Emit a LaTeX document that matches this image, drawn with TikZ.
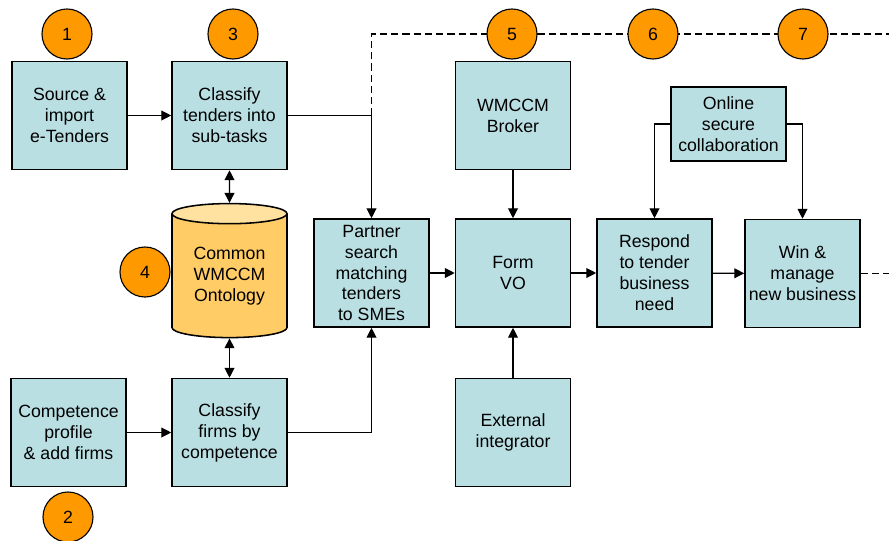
\documentclass[tikz,border=0pt]{standalone}
\usepackage{fontspec}
\setmainfont{Liberation Sans}
\usetikzlibrary{shapes.geometric,arrows.meta}
\definecolor{boxblue}{RGB}{185,223,227}
\definecolor{dbbody}{RGB}{255,204,102}
\definecolor{dbtop}{RGB}{255,226,160}
\definecolor{steporange}{RGB}{255,153,0}
\tikzstyle{block} = [draw, line width=1.1pt, fill=boxblue, rectangle, align=center,
    inner sep=0pt, minimum height=2.7cm, minimum width=2.875cm]
\tikzstyle{smallblock} = [block, minimum height=1.85cm]
\tikzstyle{database} = [draw, line width=1.1pt, cylinder, shape border rotate=90,
    aspect=0.28, cylinder uses custom fill, cylinder body fill=dbbody,
    cylinder end fill=dbtop, align=center, inner sep=0pt,
    minimum width=2.875cm, minimum height=3.35cm]
\tikzstyle{stepnum} = [draw, fill=steporange, circle, inner sep=0pt, minimum size=1.25cm]
\tikzstyle{junction} = [coordinate]

\begin{document}
\begin{tikzpicture}[x=0.025cm, y=-0.025cm, >={Triangle[length=7pt,width=7pt]},
    line width=0.8pt, font=\fontsize{12.6}{14.9}\selectfont]
    \useasboundingbox (0,0) rectangle (889,540);
    \node [block] (source) at (69.5,115.5) {Source \&\\import\\e-Tenders};
    \node [block] (tenders) at (229.5,115.5) {Classify\\tenders into\\sub-tasks};
    \node [database] (ontology) at (229.5,276) {Common\\WMCCM\\Ontology};
    \node [block] (competence) at (68.5,432.5) {Competence\\profile\\\& add firms};
    \node [block] (firms) at (229.5,432.5) {Classify\\firms by\\competence};
    \node [block] (partner) at (371.5,273) {Partner\\search\\matching\\tenders\\to SMEs};
    \node [block] (broker) at (513,115.5) {WMCCM\\Broker};
    \node [block] (formvo) at (513,273) {Form\\VO};
    \node [block] (external) at (513,432.5) {External\\integrator};
    \node [block] (respond) at (654.5,273) {Respond\\to tender\\business\\need};
    \node [block] (win) at (802.5,273.5) {Win \&\\manage\\new business};
    \node [smallblock] (online) at (728.5,124) {Online\\secure\\collaboration};
    \node [junction] (split) at (371.5,115.5) {};
    \node [junction] (topend) at (889,34) {};
    \node [junction] (winend) at (889,273.5) {};
    \draw [->] (source) -- (tenders);
    \draw [->] (tenders) -| (partner);
    \draw [<->] (tenders) -- (ontology);
    \draw [<->] (ontology) -- (firms);
    \draw [->] (competence) -- (firms);
    \draw [->] (firms) -| (partner);
    \draw [->] (partner) -- (formvo);
    \draw [->] (broker) -- (formvo);
    \draw [->] (external) -- (formvo);
    \draw [->] (formvo) -- (respond);
    \draw [->] (respond) -- (win);
    \draw [->] (online) -| (respond);
    \draw [->] (online) -| (win);
    \draw [dashed, dash pattern=on 5pt off 3pt] (split) |- (topend);
    \draw [dashed, dash pattern=on 5pt off 3pt] (win) -- (winend);
    \node [stepnum] (step1) at (67,34) {1};
    \node [stepnum] (step3) at (233,34) {3};
    \node [stepnum] (step4) at (145,272) {4};
    \node [stepnum] (step2) at (68,517) {2};
    \node [stepnum] (step5) at (512,34) {5};
    \node [stepnum] (step6) at (653,34) {6};
    \node [stepnum] (step7) at (803,34) {7};
\end{tikzpicture}
\end{document}
